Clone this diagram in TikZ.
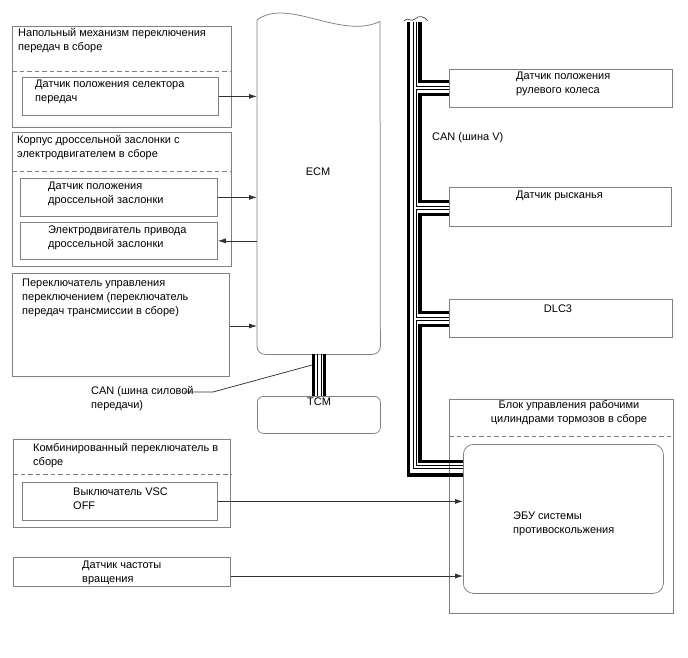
\documentclass[tikz,border=0pt]{standalone}
\usepackage{fontspec}
\setmainfont{Liberation Sans}
\usetikzlibrary{arrows.meta}
\definecolor{boxgray}{RGB}{128,128,128}
\definecolor{linecol}{RGB}{50,50,50}
\begin{document}
\begin{tikzpicture}[x=1pt,y=-1pt,
  box/.style={draw=boxgray, line width=0.75pt, inner sep=0pt, anchor=north west},
  sep/.style={draw=boxgray, line width=0.75pt, dash pattern=on 4.5pt off 3pt},
  sig/.style={draw=linecol, line width=0.75pt, -{Latex[length=8pt,width=5pt]}},
  thk/.style={line width=3.5pt, draw=black},
  thn/.style={line width=0.8pt, draw=black},
  txt/.style={inner sep=0pt, anchor=north west, align=left, font=\fontsize{11}{14}\selectfont}]
\useasboundingbox (0,0) rectangle (688,658);
\fill[white] (0,0) rectangle (688,658);

% ---- left column ----
\node[box, minimum width=219pt, minimum height=101pt] (b1) at (12,26) {};
\draw[sep] (b1.west |- 0,71) -- (b1.east |- 0,71);
\node[box, minimum width=196pt, minimum height=38pt] (s1) at (22,77) {};
\node[txt] (b1t) at (18,28) {Напольный механизм переключения\\передач в сборе};
\node[txt] (s1t) at (35,80) {Датчик положения селектора\\передач};

\node[box, minimum width=219pt, minimum height=134pt] (b2) at (12,132) {};
\draw[sep] (b2.west |- 0,171) -- (b2.east |- 0,171);
\node[box, minimum width=197pt, minimum height=38pt] (s2) at (20,178) {};
\node[box, minimum width=197pt, minimum height=37pt] (s3) at (20,222) {};
\node[txt] (b2t) at (17,135) {Корпус дроссельной заслонки с\\электродвигателем в сборе};
\node[txt] (s2t) at (48,182) {Датчик положения\\дроссельной заслонки};
\node[txt] (s3t) at (48,226) {Электродвигатель привода\\дроссельной заслонки};

\node[box, minimum width=217pt, minimum height=103pt] (b3) at (12,273) {};
\node[txt] (b3t) at (22,279) {Переключатель управления\\переключением (переключатель\\передач трансмиссии в сборе)};

\node[txt] (cant) at (91,386) {CAN (шина силовой\\передачи)};

\node[box, minimum width=217pt, minimum height=88pt] (b4) at (13,439) {};
\draw[sep] (b4.west |- 0,474) -- (b4.east |- 0,474);
\node[box, minimum width=195pt, minimum height=38pt] (sw) at (22,482) {};
\node[txt] (b4t) at (33,443) {Комбинированный переключатель в\\сборе};
\node[txt] (swt) at (73,488) {Выключатель VSC\\OFF};

\node[box, minimum width=217pt, minimum height=29pt] (spd) at (13,557) {};
\node[txt] (spdt) at (82,561) {Датчик частоты\\вращения};

% ---- ECM ----
\node[inner sep=0pt, minimum width=123pt, minimum height=334pt, anchor=north west] (ecm) at (257,20) {};
\draw[boxgray, line width=0.75pt, rounded corners=8pt] (ecm.north west) -- (ecm.south west) -- (ecm.south east) -- (380,21.5);
\draw[boxgray, line width=0.75pt] (ecm.north west) .. controls (288,-3) and (340,40) .. (380,21.5);
\node[txt, anchor=center] (ecmt) at (318,172) {ECM};

\node[box, rounded corners=6pt, minimum width=123pt, minimum height=37pt] (tcm) at (257,396) {};
\node[txt, anchor=north] (tcmt) at (319,398) {TCM};

% ECM - TCM bus
\draw[thk] (313.5,354) -- (313.5,396);
\draw[thn] (317.5,354) -- (317.5,396);
\draw[thn] (321,354) -- (321,396);
\draw[thk] (324.5,354) -- (324.5,396);

% leader for CAN label
\coordinate (ld1) at (184,392);
\coordinate (ld2) at (312,365);
\draw[linecol, line width=0.75pt] (ld1) -- (213,392) -- (ld2);

% ---- signal arrows ----
\draw[sig] (s1.east) -- (s1.east -| ecm.west);
\draw[sig] (s2.east) -- (s2.east -| ecm.west);
\draw[sig] (s3.east -| ecm.west) -- (s3.east);
\draw[sig] (b3.east |- 0,326) -- (ecm.west |- 0,326);

% ---- right column ----
\node[box, minimum width=223pt, minimum height=38pt] (r1) at (449,69) {};
\node[txt] (r1t) at (516,72) {Датчик положения\\рулевого колеса};
\node[box, minimum width=222pt, minimum height=39pt] (r2) at (449,187) {};
\node[txt] (r2t) at (516,191) {Датчик рысканья};
\node[box, minimum width=223pt, minimum height=38pt] (r3) at (449,299) {};
\node[txt, anchor=center] (r3t) at (558,309) {DLC3};
\node[txt] (canv) at (432,132) {CAN (шина V)};

\node[box, minimum width=224pt, minimum height=214pt] (brk) at (449,399) {};
\draw[sep] (brk.west |- 0,436) -- (brk.east |- 0,436);
\node[txt, align=center, anchor=north] (brkt) at (569,400) {Блок управления рабочими\\цилиндрами тормозов в сборе};
\node[box, rounded corners=10pt, minimum width=200pt, minimum height=149pt] (ecu) at (463,444) {};
\node[txt] (ecut) at (513,512) {ЭБУ системы\\противоскольжения};

\draw[sig] (sw.east) -- (sw.east -| ecu.west);
\draw[sig] (spd.east |- 0,576) -- (ecu.west |- 0,576);

% ---- CAN V bus ----
\draw[linecol, line width=0.6pt] (404,21) .. controls (407,16) and (411,23) .. (415,19) .. controls (419,15) and (424,16) .. (428,21);
\draw[thk] (408.5,22) -- (408.5,475) -- (ecu.west |- 0,475);
\draw[thn] (413,22) -- (413,468.5) -- (ecu.west |- 0,468.5);
\draw[thn] (416,22) -- (416,86.2) -- (r1.west |- 0,86.2)
           (r1.west |- 0,89.8) -- (416,89.8) -- (416,206.2) -- (r2.west |- 0,206.2)
           (r2.west |- 0,209.8) -- (416,209.8) -- (416,317.2) -- (r3.west |- 0,317.2)
           (r3.west |- 0,320.8) -- (416,320.8) -- (416,465.5) -- (ecu.west |- 0,465.5);
\draw[thk] (420,22) -- (420,81.5) -- (r1.west |- 0,81.5)
           (r1.west |- 0,94.5) -- (420,94.5) -- (420,201.5) -- (r2.west |- 0,201.5)
           (r2.west |- 0,214.5) -- (420,214.5) -- (420,312.5) -- (r3.west |- 0,312.5)
           (r3.west |- 0,325.5) -- (420,325.5) -- (420,461.5) -- (ecu.west |- 0,461.5);
\end{tikzpicture}
\end{document}
